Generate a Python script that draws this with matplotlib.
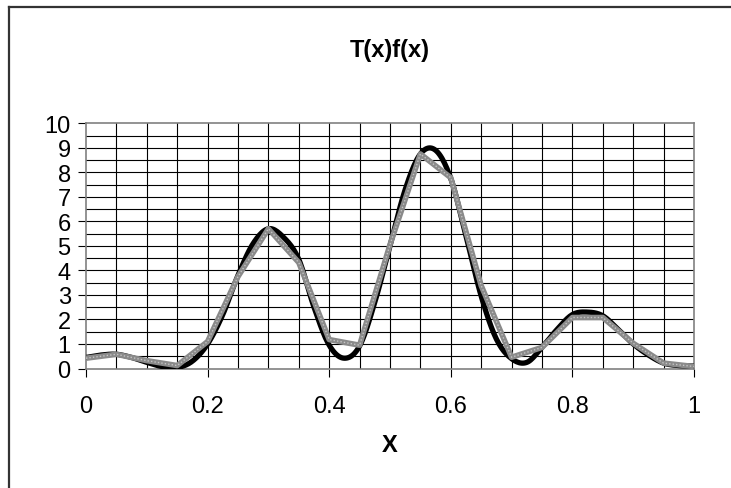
import numpy as np
import matplotlib
matplotlib.use("Agg")
import matplotlib.pyplot as plt
from matplotlib.lines import Line2D

# ---- data ----
x_fine = [0.0, 0.025, 0.05, 0.075, 0.1, 0.125, 0.15, 0.175, 0.2, 0.225,
          0.25, 0.275, 0.3, 0.325, 0.35, 0.375, 0.4, 0.425, 0.45, 0.475,
          0.5, 0.525, 0.55, 0.575, 0.6, 0.625, 0.65, 0.675, 0.7, 0.725,
          0.75, 0.775, 0.8, 0.825, 0.85, 0.875, 0.9, 0.925, 0.95, 0.975, 1.0]
exact_vals = [0.45, 0.55, 0.58, 0.45, 0.25, 0.08, 0.04, 0.3, 1.0, 2.2,
              3.8, 5.1, 5.7, 5.35, 4.45, 2.5, 0.95, 0.42, 0.92, 2.7,
              5.0, 7.3, 8.75, 8.9, 7.75, 5.4, 2.95, 1.2, 0.4, 0.25,
              0.86, 1.6, 2.2, 2.3, 2.15, 1.6, 1.0, 0.55, 0.22, 0.12, 0.1]

x_coarse = [0.0, 0.05, 0.1, 0.15, 0.2, 0.25, 0.3, 0.35, 0.4, 0.45, 0.5,
            0.55, 0.6, 0.65, 0.7, 0.75, 0.8, 0.85, 0.9, 0.95, 1.0]
approx_vals = [0.42, 0.58, 0.32, 0.12, 1.1, 3.75, 5.7, 4.32, 1.18, 0.95, 5.05,
               8.75, 7.78, 3.38, 0.46, 0.86, 2.08, 2.08, 1.03, 0.22, 0.08]

title = "T(x)f(x)"
xlabel = "X"
xticks = [0, 0.2, 0.4, 0.6, 0.8, 1]
xtick_labels = ["0", "0.2", "0.4", "0.6", "0.8", "1"]
yticks = list(range(0, 11))


def smooth_line(xs, ys, n=12):
    """Catmull-Rom smoothed rendering (like a spreadsheet 'smoothed line')."""
    xs = np.asarray(xs, float)
    ys = np.asarray(ys, float)
    P = np.column_stack([xs, ys])
    P = np.vstack([2 * P[0] - P[1], P, 2 * P[-1] - P[-2]])
    out = []
    t = np.linspace(0, 1, n, endpoint=False)[:, None]
    for i in range(1, len(P) - 2):
        p0, p1, p2, p3 = P[i - 1], P[i], P[i + 1], P[i + 2]
        seg = 0.5 * ((2 * p1) + (-p0 + p2) * t + (2 * p0 - 5 * p1 + 4 * p2 - p3) * t ** 2
                     + (-p0 + 3 * p1 - 3 * p2 + p3) * t ** 3)
        out.append(seg)
    out.append(P[-2][None, :])
    out = np.vstack(out)
    return out[:, 0], out[:, 1]


plt.rcParams['font.family'] = ['Liberation Sans', 'DejaVu Sans']

W, H = 731, 489
fig = plt.figure(figsize=(W / 100, H / 100), dpi=100)
fig.patch.set_facecolor("white")

ax = fig.add_axes([86 / W, 1 - 369.5 / H, (694 - 86) / W, (369.5 - 124.3) / H])
ax.set_xlim(0, 1)
ax.set_ylim(0, 10)

# grid
for gx in np.arange(0.05, 1.0, 0.05):
    ax.axvline(gx, color="black", lw=0.8, zorder=1)
for gy in np.arange(0.5, 10.0, 0.5):
    ax.axhline(gy, color="black", lw=0.8, zorder=1)

sx, sy = smooth_line(x_fine, exact_vals)
ax.plot(sx, sy, color="black", lw=3.8, solid_capstyle="butt", solid_joinstyle="round", zorder=3)
ax.plot(x_coarse, approx_vals, color="#8a8a8a", lw=4.0, solid_joinstyle="round",
        solid_capstyle="butt", zorder=4)
ax.plot(x_coarse, approx_vals, color="#c4c4c4", lw=1.0, linestyle=(0, (1, 1.5)), zorder=5)

for s in ax.spines.values():
    s.set_color("#808080")
    s.set_linewidth(1.2)

ax.set_xticks(xticks)
ax.set_xticklabels(xtick_labels)
ax.set_yticks(yticks)
ax.tick_params(axis="x", direction="out", length=6, width=0.8, color="black",
               pad=13, labelsize=17)
ax.tick_params(axis="y", direction="out", length=6, width=0.8, color="black",
               pad=5, labelsize=17)

fig.text(0.5 * (86 + 694) / W, 1 - 50 / H, title, ha="center", va="center",
         fontsize=17, fontweight="bold")
fig.text(0.5 * (86 + 694) / W, 1 - 446 / H, xlabel, ha="center", va="center",
         fontsize=17, fontweight="bold")

# outer frame (left and top edges visible)
fig.add_artist(Line2D([8.5 / W, 8.5 / W], [0, 1 - 7.5 / H], transform=fig.transFigure,
                      color="#333333", lw=1.6))
fig.add_artist(Line2D([8.5 / W, 1], [1 - 7.5 / H, 1 - 7.5 / H], transform=fig.transFigure,
                      color="#333333", lw=1.6))

fig.savefig("out.png", dpi=100)
